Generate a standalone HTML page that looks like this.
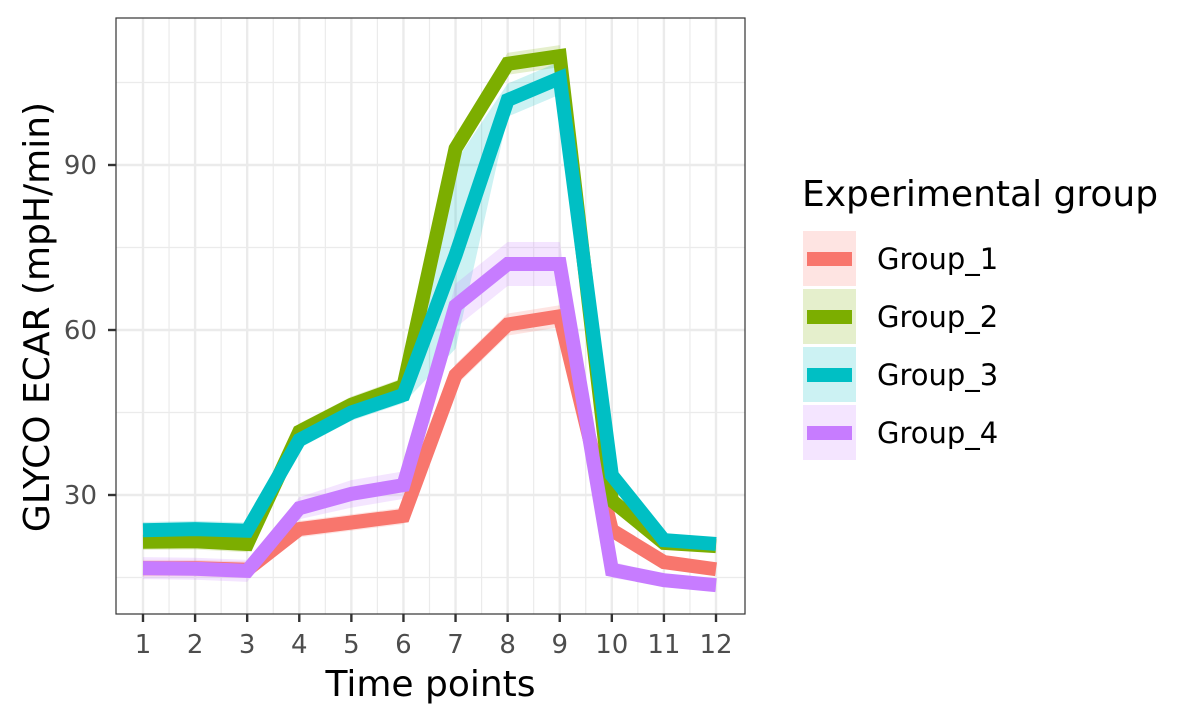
<!DOCTYPE html>
<html><head><meta charset="utf-8"><style>
body{margin:0;background:#fff;}
svg{display:block;font-family:"DejaVu Sans","Liberation Sans",sans-serif;}
</style></head><body>
<svg id="c" width="1200" height="720" xmlns="http://www.w3.org/2000/svg"></svg>
<script>
const timePoints=[1,2,3,4,5,6,7,8,9,10,11,12];
const groupNames=["Group_1","Group_2","Group_3","Group_4"];
const groupColors=["#F8766D","#7CAE00","#00BFC4","#C77CFF"];
const g1=[16.7,16.7,16.4,23.8,25,26.2,51.8,61,62.5,23.6,17.8,16.5];
const g2=[21.5,21.6,21.1,41.5,46.4,49.8,93,108.4,109.8,29,21.3,20.7];
const g3=[23.6,23.8,23.5,40,45,48.2,73.6,101.8,105.8,33.6,21.8,21.1];
const g4=[16.7,16.6,16.2,27.6,30.2,31.8,64.4,72,72,16.4,14.5,13.6];
const e1=[1.5,1.5,1.5,1.5,1.5,1.5,2,2,2,1.5,1,1];
const e2=[1.5,1.5,1.5,1.5,1.5,1.5,2,2,2,1.5,1,1];
const e3=[1.5,1.5,1.5,1.5,1.5,1.5,17,3,3,2,1,1];
const e4=[2,2,2,2,2.5,2.5,4,4,4,1.5,1,1];
const series=[g1,g2,g3,g4];
const errs=[e1,e2,e3,e4];
const yTicks=[30,60,90];
const yMinor=[15,45,75,105];

const S=document.getElementById('c');const NS="http://www.w3.org/2000/svg";
const L=116,R=745,T=18,B=614;
const xs=v=>143+(v-1)*(716-143)/11;
const ys=v=>660-v*5.5;
function mk(t,a,p){const e=document.createElementNS(NS,t);for(const k in a)e.setAttribute(k,a[k]);(p||S).appendChild(e);return e;}
const grid=mk('g',{});


yMinor.forEach(v=>mk('line',{x1:L,x2:R,y1:ys(v),y2:ys(v),stroke:'#ebebeb','stroke-width':1.2},grid));
timePoints.slice(0,-1).forEach(v=>mk('line',{x1:xs(v+0.5),x2:xs(v+0.5),y1:T,y2:B,stroke:'#ebebeb','stroke-width':1.2},grid));
yTicks.forEach(v=>mk('line',{x1:L,x2:R,y1:ys(v),y2:ys(v),stroke:'#ebebeb','stroke-width':2.4},grid));
timePoints.forEach(v=>mk('line',{x1:xs(v),x2:xs(v),y1:T,y2:B,stroke:'#ebebeb','stroke-width':2.4},grid));
series.forEach((s,i)=>{
 const up=s.map((v,j)=>xs(timePoints[j])+','+ys(v+errs[i][j]));
 const lo=s.map((v,j)=>xs(timePoints[j])+','+ys(v-errs[i][j])).reverse();
 const r=mk('polygon',{points:up.concat(lo).join(' '),fill:groupColors[i],'fill-opacity':0.2});
 
 
});
series.forEach((s,i)=>{
 const l=mk('polyline',{points:s.map((v,j)=>xs(timePoints[j])+','+ys(v)).join(' '),fill:'none',stroke:groupColors[i],'stroke-width':14,'stroke-linejoin':'miter','stroke-miterlimit':2});
 
 
});
const fr=mk('rect',{x:L,y:T,width:R-L,height:B-T,fill:'none',stroke:'#333','stroke-width':1.2});


yTicks.forEach(v=>{
 mk('line',{x1:L-8,x2:L,y1:ys(v),y2:ys(v),stroke:'#333','stroke-width':2.4});
 const t=mk('text',{x:97,y:ys(v)+9,'text-anchor':'end','font-size':26,fill:'#4d4d4d'});t.textContent=v;
 
 
});
timePoints.forEach(v=>{
 mk('line',{x1:xs(v),x2:xs(v),y1:B,y2:B+8,stroke:'#333','stroke-width':2.4});
 const t=mk('text',{x:xs(v),y:653,'text-anchor':'middle','font-size':26,fill:'#4d4d4d'});t.textContent=v;
 
 
});
const xt=mk('text',{x:(L+R)/2,y:696,'text-anchor':'middle','font-size':36,fill:'#000'});xt.textContent='Time points';


const yt=mk('text',{x:0,y:0,transform:'translate(49,317) rotate(-90)','text-anchor':'middle','font-size':36,fill:'#000'});yt.textContent='GLYCO ECAR (mpH/min)';


const lt=mk('text',{x:802,y:206,'font-size':36,fill:'#000'});lt.textContent='Experimental group';


groupNames.forEach((n,i)=>{
 const cy=259+i*58;
 const g=mk('g',{});
 
 
 mk('rect',{x:803,y:cy-28,width:53,height:55,fill:groupColors[i],'fill-opacity':0.2},g);
 mk('line',{x1:807,x2:852,y1:cy,y2:cy,stroke:groupColors[i],'stroke-width':14},g);
 const t=mk('text',{x:877,y:cy+10,'font-size':29,fill:'#000'},g);t.textContent=n;
});
</script>
</body></html>
